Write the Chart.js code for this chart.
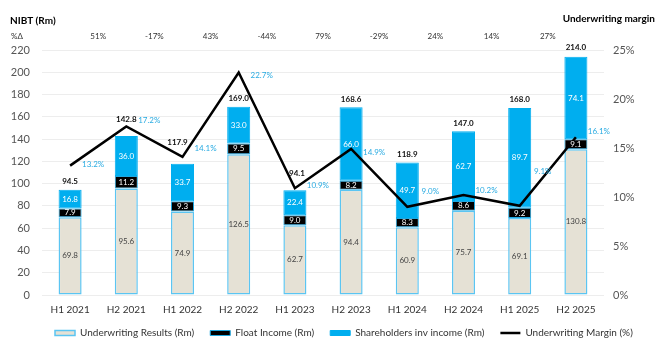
<!DOCTYPE html>
<html>
<head>
<meta charset="utf-8">
<script src="https://cdn.jsdelivr.net/npm/chart.js"></script>
<style>
body { margin: 0; background: #fff; }
</style>
</head>
<body>
<canvas id="myChart" width="660" height="353"></canvas>
<script>
const periods = ['H1 2021', 'H2 2021', 'H1 2022', 'H2 2022', 'H1 2023', 'H2 2023', 'H1 2024', 'H2 2024', 'H1 2025', 'H2 2025'];
const underwriting = [69.8, 95.6, 74.9, 126.5, 62.7, 94.4, 60.9, 75.7, 69.1, 130.8];
const floatIncome = [7.9, 11.2, 9.3, 9.5, 9.0, 8.2, 8.3, 8.6, 9.2, 9.1];
const shareholders = [16.8, 36.0, 33.7, 33.0, 22.4, 66.0, 49.7, 62.7, 89.7, 74.1];
const totals = [94.5, 142.8, 117.9, 169.0, 94.1, 168.6, 118.9, 147.0, 168.0, 214.0];
const margin = [13.2, 17.2, 14.1, 22.7, 10.9, 14.9, 9.0, 10.2, 9.1, 16.1];
const growth = ['51%', '-17%', '43%', '-44%', '79%', '-29%', '24%', '14%', '27%'];

const FONT = 'Lato, "Open Sans", sans-serif';

// labels, headers and the %Δ row
const labelsPlugin = {
  id: 'labels',
  afterLayout(chart) {
    chart.legend.left += 29;
    chart.legend.right += 29;
    chart.legend.top -= 5;
  },
  afterDraw(chart) {
    const ctx = chart.ctx;
    const x = chart.scales.x;
    ctx.save();
    ctx.textBaseline = 'middle';

    ctx.font = 'bold 10px ' + FONT;
    ctx.fillStyle = '#000';
    ctx.textAlign = 'left';
    ctx.fillText('NIBT (Rm)', 10, 21);
    ctx.textAlign = 'right';
    ctx.fillText('Underwriting margin', 655, 19);

    ctx.font = '8px ' + FONT;
    ctx.fillStyle = '#333';
    ctx.textAlign = 'left';
    ctx.fillText('%Δ', 11, 36);
    ctx.textAlign = 'center';
    growth.forEach((g, i) => {
      const px = (x.getPixelForValue(i) + x.getPixelForValue(i + 1)) / 2;
      ctx.fillText(g, px, 36);
    });

    const segColors = ['#444', '#fff', '#fff'];
    [0, 1, 2].forEach(d => {
      const meta = chart.getDatasetMeta(d);
      ctx.fillStyle = segColors[d];
      ctx.font = '8px ' + FONT;
      meta.data.forEach((el, i) => {
        ctx.fillText(chart.data.datasets[d].data[i].toFixed(1), el.x, (el.y + el.base) / 2);
      });
    });

    // totals sit above the stack, lifted clear of the line where they meet it
    const lift = [8, 17, 21, 8, 17, 8, 8, 8, 8, 9];
    const nudge = [0, 0, -5, 0, 2, 0, 0, 0, 0, 0];
    const topMeta = chart.getDatasetMeta(2);
    ctx.font = 'bold 8px ' + FONT;
    ctx.fillStyle = '#111';
    topMeta.data.forEach((el, i) => {
      ctx.fillText(totals[i].toFixed(1), el.x + nudge[i], el.y - lift[i]);
    });

    const dy = [-1, -6, -8, 3, -3, 3, -15, -5, -34, -6];
    const lineMeta = chart.getDatasetMeta(3);
    ctx.fillStyle = '#29ABE2';
    ctx.font = '8px ' + FONT;
    lineMeta.data.forEach((p, i) => {
      ctx.fillText(margin[i].toFixed(1) + '%', p.x + 23, p.y + dy[i]);
    });
    ctx.restore();
  }
};

const ctx = document.getElementById('myChart').getContext('2d');
const chart = new Chart(ctx, {
  type: 'bar',
  data: {
    labels: periods,
    datasets: [{
      label: 'Underwriting Results (Rm)',
      data: underwriting,
      backgroundColor: '#E5E1D5',
      borderColor: '#5BC5F2',
      borderWidth: 1.5,
      borderSkipped: false,
      stack: 's',
      order: 1
    }, {
      label: 'Float Income (Rm)',
      data: floatIncome,
      backgroundColor: '#000',
      borderColor: '#1FA7E0',
      borderWidth: 1,
      borderSkipped: false,
      stack: 's',
      order: 1
    }, {
      label: 'Shareholders inv income (Rm)',
      data: shareholders,
      backgroundColor: '#00AEEF',
      borderColor: '#00AEEF',
      borderWidth: 1,
      borderSkipped: false,
      stack: 's',
      order: 1
    }, {
      type: 'line',
      label: 'Underwriting Margin (%)',
      data: margin,
      yAxisID: 'y1',
      borderColor: '#000',
      backgroundColor: '#000',
      borderWidth: 2.5,
      pointRadius: 0,
      tension: 0,
      order: 0
    }]
  },
  options: {
    responsive: false,
    animation: false,
    barPercentage: 0.41,
    categoryPercentage: 1,
    layout: { padding: { top: 50, left: 10, right: 0, bottom: 0 } },
    plugins: {
      title: { display: false },
      tooltip: { enabled: false },
      legend: {
        position: 'bottom',
        align: 'start',
        labels: {
          usePointStyle: true,
          pointStyleWidth: 20,
          boxHeight: 5,
          padding: 16,
          color: '#333',
          font: { family: FONT, size: 10 },
          sort: (a, b) => a.datasetIndex - b.datasetIndex,
          generateLabels(chart) {
            const items = Chart.defaults.plugins.legend.labels.generateLabels(chart);
            items.forEach(it => { it.pointStyle = it.datasetIndex === 3 ? 'line' : 'rect'; });
            return items;
          }
        }
      }
    },
    scales: {
      x: {
        stacked: true,
        grid: { display: false, drawTicks: false },
        border: { display: false },
        ticks: { color: '#333', padding: 9, font: { family: FONT, size: 10 } },
        afterFit(scale) { scale.height = 22; }
      },
      y: {
        stacked: true,
        min: 0,
        max: 220,
        ticks: { stepSize: 20, color: '#555', padding: 12, font: { family: FONT, size: 11 } },
        grid: { color: '#EDEDED', drawTicks: false },
        border: { display: false },
        afterFit(scale) { scale.width = 32; }
      },
      y1: {
        position: 'right',
        min: 0,
        max: 25,
        ticks: { stepSize: 5, color: '#555', padding: 9, font: { family: FONT, size: 11 },
          callback: v => v + '%' },
        grid: { display: false, drawTicks: false },
        border: { display: false },
        afterFit(scale) { scale.width = 56; }
      }
    }
  },
  plugins: [labelsPlugin]
});
</script>
</body>
</html>
